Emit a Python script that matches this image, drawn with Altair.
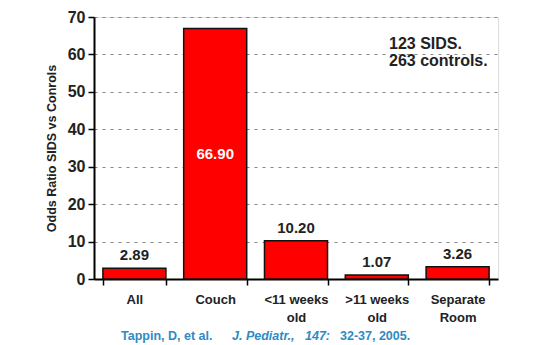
import altair as alt
import pandas as pd

categories = ["All", "Couch", "<11 weeks\nold", ">11 weeks\nold", "Separate\nRoom"]
odds = [2.89, 66.90, 10.20, 1.07, 3.26]
value_labels = ["2.89", "66.90", "10.20", "1.07", "3.26"]
inside_bar = [False, True, False, False, False]

note_lines = ["123 SIDS.", "263 controls."]
citation_parts = ["Tappin, D, et al.", "J. Pediatr.,", "147:", "32-37, 2005."]
citation_italic = [False, True, True, False]

FONT = "Liberation Sans"
W, H = 404, 262

df = pd.DataFrame({"cat": categories, "odds": odds, "label": value_labels, "inside": inside_bar})
df["mid"] = df["odds"] / 2

xaxis = alt.Axis(
    labelExpr="split(datum.label, '\\n')", labelAngle=0, labelFont=FONT,
    labelFontSize=13, labelFontWeight="bold", labelColor="#222",
    labelPadding=8, labelLineHeight=18, tickBand="extent", tickSize=6,
    tickColor="#000", tickWidth=1.5, domainColor="#000", domainWidth=2,
    grid=False, labelOverlap=False,
)
yaxis = alt.Axis(
    title="Odds Ratio SIDS vs Conrols", titleFont=FONT, titleFontSize=12.5,
    titleFontWeight="bold", titleColor="#222", titlePadding=9,
    values=list(range(0, 71, 10)), tickCount=8, labelOverlap=False,
    labelFont=FONT, labelFontSize=16,
    labelFontWeight="bold", labelColor="#222", labelPadding=3,
    tickSize=6, tickColor="#000", tickWidth=1.5, domainColor="#000",
    domainWidth=2, grid=True, gridDash=[3, 5], gridColor="#888",
    gridWidth=1,
)
xscale = alt.Scale(paddingInner=0.22, paddingOuter=0.11)
yscale = alt.Scale(domain=[0, 70])

def X():
    return alt.X("cat:N", sort=categories, title=None, scale=xscale, axis=xaxis)

def Y(field):
    return alt.Y(field, scale=yscale, axis=yaxis, title="Odds Ratio SIDS vs Conrols")

base = alt.Chart(df)
bars = base.mark_bar(color="#FF0000", stroke="#111", strokeWidth=1.5).encode(x=X(), y=Y("odds:Q"))
out_text = base.transform_filter("!datum.inside").mark_text(
    dy=-5, baseline="bottom", font=FONT, fontSize=15, fontWeight="bold", color="#222"
).encode(x=X(), y=Y("odds:Q"), text="label:N")
in_text = base.transform_filter("datum.inside").mark_text(
    baseline="middle", font=FONT, fontSize=15, fontWeight="bold", color="white"
).encode(x=X(), y=Y("mid:Q"), text="label:N")

note_layers = []
for line, py in zip(note_lines, [27, 44]):
    note_layers.append(
        alt.Chart(pd.DataFrame({"t": [line]})).mark_text(
            align="left", baseline="middle", font=FONT, fontSize=16, fontWeight="bold", color="#222"
        ).encode(x=alt.value(295), y=alt.value(py), text="t:N")
    )

cit_x = [27, 138, 211, 246]
cit_layers = []
for part, ital, px in zip(citation_parts, citation_italic, cit_x):
    cit_layers.append(
        alt.Chart(pd.DataFrame({"t": [part]})).mark_text(
            align="left", baseline="middle", font=FONT, fontSize=12.5, fontWeight="bold",
            fontStyle="italic" if ital else "normal", color="#2E8BC6",
        ).encode(x=alt.value(px), y=alt.value(319), text="t:N")
    )

chart = alt.layer(bars, out_text, in_text, *note_layers, *cit_layers).properties(
    width=W, height=H,
    autosize=alt.AutoSizeParams(type="none"),
    padding={"left": 86, "top": 9, "right": 30, "bottom": 64},
).configure_view(fill="#FFFF99", stroke="#000", strokeWidth=2).configure(background="white")

chart.save("out.html", embed_options={"renderer": "svg", "actions": False})
